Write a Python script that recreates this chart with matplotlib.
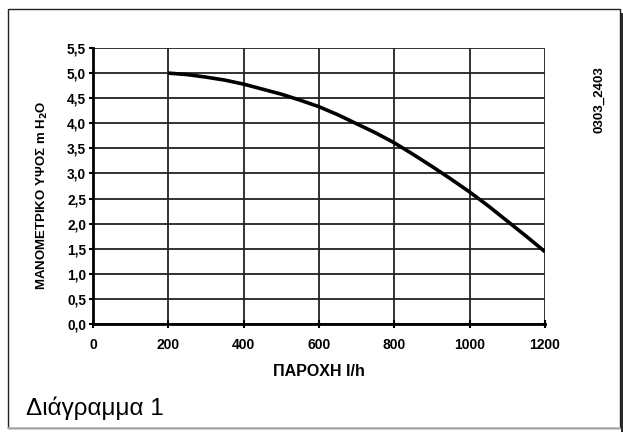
import matplotlib
matplotlib.use("Agg")
import matplotlib.pyplot as plt
from matplotlib.patches import Rectangle
from matplotlib.lines import Line2D

# Data
flow = [200, 250, 300, 350, 400, 450, 500, 550, 600, 650, 700, 750, 800,
        850, 900, 950, 1000, 1050, 1100, 1150, 1200]
head = [5.0, 4.97, 4.92, 4.86, 4.78, 4.68, 4.58, 4.46, 4.33, 4.17, 3.99, 3.81, 3.61,
        3.38, 3.14, 2.89, 2.63, 2.35, 2.05, 1.75, 1.44]
x_ticks = [0, 200, 400, 600, 800, 1000, 1200]
x_tick_labels = ["0", "200", "400", "600", "800", "1000", "1200"]
y_ticks = [0.0, 0.5, 1.0, 1.5, 2.0, 2.5, 3.0, 3.5, 4.0, 4.5, 5.0, 5.5]
y_tick_labels = ["0,0", "0,5", "1,0", "1,5", "2,0", "2,5", "3,0", "3,5", "4,0", "4,5", "5,0", "5,5"]

plt.rcParams['font.family'] = ['Liberation Sans', 'DejaVu Sans']

fig = plt.figure(figsize=(6.23, 4.32), dpi=100)
W, H = 623, 432

# outer frame
fig.patches.append(Rectangle((8 / W, 1 - 428 / H), (620 - 8) / W, (428 - 9) / H,
                             transform=fig.transFigure, fill=False,
                             edgecolor='#222222', linewidth=1.0))
fig.lines.append(Line2D([8 / W, 620 / W], [1 - 428 / H, 1 - 428 / H],
                        transform=fig.transFigure, color='#bbbbbb', linewidth=1.2))
fig.patches.append(Rectangle((620.5 / W, 0), 2.5 / W, 1 - 13 / H,
                             transform=fig.transFigure, facecolor='#2a2a2a',
                             edgecolor='none'))

ax = fig.add_axes([93 / W, 1 - 324 / H, (545 - 93) / W, (324 - 48) / H])
ax.plot(flow, head, color='black', linewidth=2.6, solid_capstyle='butt', zorder=5)

ax.set_xlim(0, 1200)
ax.set_ylim(0, 5.5)
ax.set_xticks(x_ticks)
ax.set_xticklabels(x_tick_labels, fontsize=10, fontweight='bold')
ax.set_yticks(y_ticks)
ax.set_yticklabels(y_tick_labels, fontsize=9.8, fontweight='bold')
ax.grid(True, color='#222222', linewidth=1.3)
ax.set_axisbelow(True)

for s in ['top', 'right']:
    ax.spines[s].set_visible(False)
ax.spines['left'].set_linewidth(2.0)
ax.spines['bottom'].set_linewidth(2.0)
ax.tick_params(axis='y', direction='out', length=3, width=1.5, pad=2, colors='black')
ax.tick_params(axis='x', direction='inout', length=6, width=1.5, pad=7, colors='black')

ax.set_xlabel("ΠΑΡΟΧΗ l/h", fontsize=11.5, fontweight='bold', labelpad=9)
ax.set_ylabel("ΜΑΝΟΜΕΤΡΙΚΟ ΥΨΟΣ m H$_\\mathbf{2}$O", fontsize=9.5, fontweight='bold',
              va='center')
ax.yaxis.set_label_coords(-0.111, 0.465)

fig.text(599 / W, 1 - 100 / H, "0303_2403", rotation=90, ha='center', va='center',
         fontsize=9.5, fontweight='bold')
fig.text(26 / W, 1 - 415 / H, "Διάγραμμα 1", ha='left', va='baseline', fontsize=17.5)

fig.savefig("out.png", dpi=100)
